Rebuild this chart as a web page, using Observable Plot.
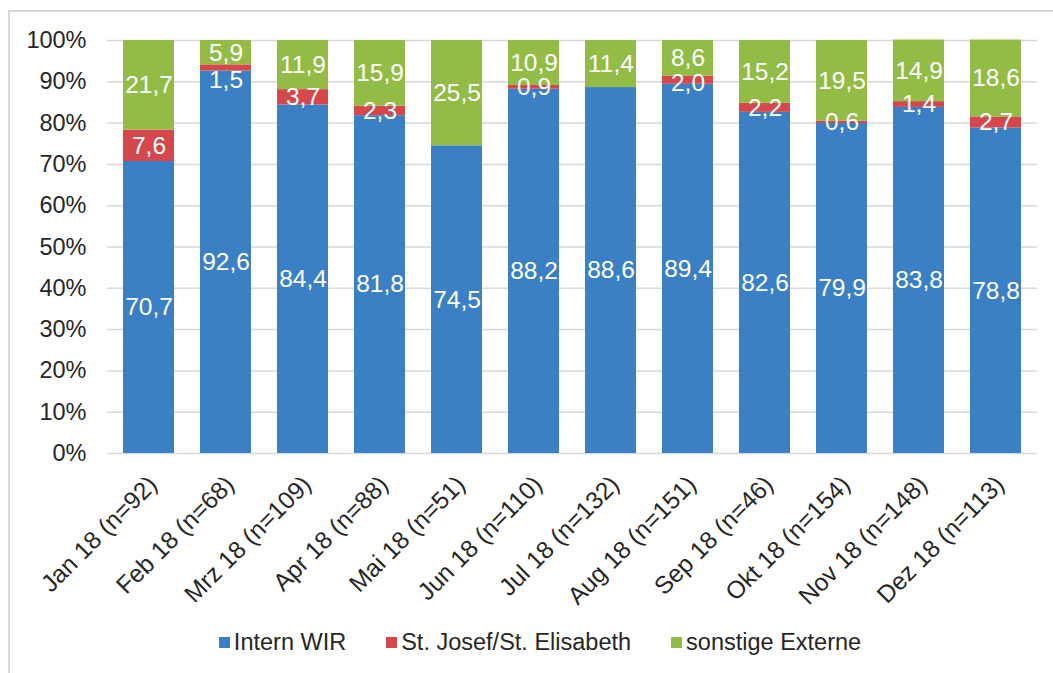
<!DOCTYPE html>
<html>
<head>
<meta charset="utf-8">
<script src="https://cdn.jsdelivr.net/npm/d3@7"></script>
<script src="https://cdn.jsdelivr.net/npm/@observablehq/plot@0.6"></script>
<style>
  html, body { margin: 0; padding: 0; background: #fff; }
  body { width: 1053px; height: 673px; overflow: hidden; position: relative; font-family: "Liberation Sans", Arial, sans-serif; }
  #frame { position: absolute; left: 8px; top: 10px; width: 1200px; height: 800px; border: 2px solid #d9d9d9; box-sizing: border-box; }
  #chart { position: absolute; left: 0; top: 0; }
  #legend { position: absolute; left: 0; top: 629px; width: 1080px; display: flex; justify-content: center; gap: 40px; font-size: 23.5px; color: #262626; }
  #legend .item { display: flex; align-items: center; }
  #legend .sw { width: 11px; height: 11px; margin-right: 4px; }
</style>
</head>
<body>
<div id="frame"></div>
<div id="chart"></div>
<div id="legend"></div>
<script>
const months = ["Jan 18 (n=92)", "Feb 18 (n=68)", "Mrz 18 (n=109)", "Apr 18 (n=88)", "Mai 18 (n=51)", "Jun 18 (n=110)", "Jul 18 (n=132)", "Aug 18 (n=151)", "Sep 18 (n=46)", "Okt 18 (n=154)", "Nov 18 (n=148)", "Dez 18 (n=113)"];
const seriesNames = ["Intern WIR", "St. Josef/St. Elisabeth", "sonstige Externe"];
const internWIR = [70.7, 92.6, 84.4, 81.8, 74.5, 88.2, 88.6, 89.4, 82.6, 79.9, 83.8, 78.8];
const stJosef = [7.6, 1.5, 3.7, 2.3, 0, 0.9, 0, 2.0, 2.2, 0.6, 1.4, 2.7];
const sonstige = [21.7, 5.9, 11.9, 15.9, 25.5, 10.9, 11.4, 8.6, 15.2, 19.5, 14.9, 18.6];
const colors = ["#3b80c4", "#d4474a", "#92bc46"];
const yTicks = [0, 10, 20, 30, 40, 50, 60, 70, 80, 90, 100];

const seriesValues = [internWIR, stJosef, sonstige];
const data = [];
seriesNames.forEach((s, si) => {
  months.forEach((m, mi) => {
    data.push({month: m, series: s, value: seriesValues[si][mi], si, mi});
  });
});

const fmt = v => v.toFixed(1).replace(".", ",");
// how much a middle-segment label must move down so it does not collide with the label above it
const nudgeClass = d => {
  if (d.si !== 1) return 0;
  if (sonstige[d.mi] < 7) return 2;
  if (sonstige[d.mi] < 10) return 1;
  return 0;
};
const labelFor = k => d => (d.value > 0 && nudgeClass(d) === k) ? fmt(d.value) : null;
const base = {x: "month", y: "value", z: "series", order: seriesNames, fill: "white", fontSize: 24.5};

const chart = Plot.plot({
  width: 1053,
  height: 673,
  marginLeft: 107,
  marginRight: 16,
  marginTop: 40,
  marginBottom: 220,
  style: {fontFamily: "'Liberation Sans', Arial, sans-serif", fontSize: "23.5px", color: "#262626", background: "transparent"},
  x: {domain: months, paddingInner: 0.34, paddingOuter: 0.17, label: null},
  y: {domain: [0, 100], ticks: yTicks, tickFormat: d => d + "%", label: null, tickSize: 0, tickPadding: 21},
  color: {domain: seriesNames, range: colors},
  marks: [
    Plot.ruleY(yTicks, {stroke: "#d9d9d9", strokeWidth: 1.5}),
    Plot.barY(data, {x: "month", y: "value", fill: "series", order: seriesNames}),
    Plot.text(data, Plot.stackY({...base, text: labelFor(0)})),
    Plot.text(data, Plot.stackY({...base, text: labelFor(1), dy: 3})),
    Plot.text(data, Plot.stackY({...base, text: labelFor(2), dy: 12})),
    Plot.axisX({label: null, tickSize: 0, tickPadding: 27, tickRotate: -45, dx: 4, fontSize: 24.5})
  ]
});
document.getElementById("chart").appendChild(chart);

const legend = document.getElementById("legend");
seriesNames.forEach((s, i) => {
  const item = document.createElement("div");
  item.className = "item";
  const sw = document.createElement("span");
  sw.className = "sw";
  sw.style.background = colors[i];
  const t = document.createElement("span");
  t.textContent = s;
  item.appendChild(sw);
  item.appendChild(t);
  legend.appendChild(item);
});
</script>
</body>
</html>
